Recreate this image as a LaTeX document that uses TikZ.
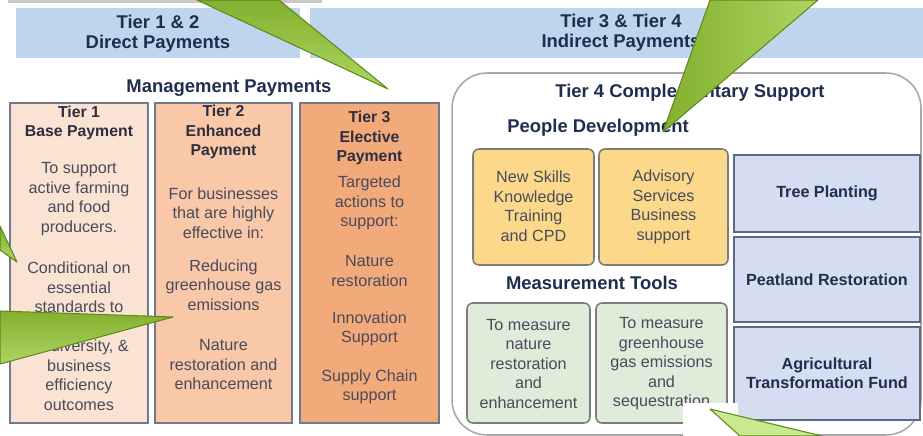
\documentclass[tikz,border=0pt]{standalone}
\usepackage{fontspec}
\setmainfont{Liberation Sans}
\usepackage{xcolor}

\definecolor{bandblue}{HTML}{BDD6EE}
\definecolor{headnavy}{HTML}{1F2D4F}
\definecolor{tiertext}{HTML}{2E2E40}
\definecolor{bodytext}{HTML}{4A4A5A}
\definecolor{tierline}{HTML}{707A8A}
\definecolor{tierone}{HTML}{FBE3D3}
\definecolor{tiertwo}{HTML}{F8C8A8}
\definecolor{tierthree}{HTML}{F3AA7B}
\definecolor{outline}{HTML}{A8A8A8}
\definecolor{softline}{HTML}{7C7C7C}
\definecolor{skillyellow}{HTML}{FCD98A}
\definecolor{measuregreen}{HTML}{E0ECDA}
\definecolor{fundblue}{HTML}{D5DDF1}
\definecolor{fundline}{HTML}{5C6884}
\definecolor{topgray}{HTML}{C8C8C8}
\definecolor{pointerline}{HTML}{5E8A1A}
\definecolor{pointerlight}{HTML}{AFD561}
\definecolor{pointerdark}{HTML}{82B02E}
\definecolor{pointerpale}{HTML}{C9E98F}

\begin{document}
\begin{tikzpicture}[x=0.02cm,y=-0.02cm]
%style for header bands and big headings
\tikzstyle{band} = [rectangle, fill=bandblue, inner sep=0pt, minimum height=1cm]
\tikzstyle{bighead} = [font=\fontsize{10.5}{11.6}\selectfont\bfseries, text=headnavy, align=center, inner sep=0pt]

%style for tier columns
\tikzstyle{tierbox} = [rectangle, draw=tierline, line width=1.1pt, inner sep=0pt, minimum height=6.4cm]
\tikzstyle{tierhead} = [font=\fontsize{9}{11.2}\selectfont\bfseries, text=tiertext, align=center, inner sep=0pt]
\tikzstyle{body} = [font=\fontsize{9.2}{11.1}\selectfont, text=bodytext, align=center, inner sep=0pt]

%style for tier 4 boxes
\tikzstyle{softbox} = [rectangle, rounded corners=0.12cm, draw=softline, line width=0.9pt, inner sep=0pt]
\tikzstyle{fundbox} = [rectangle, draw=fundline, fill=fundblue, line width=0.9pt, inner sep=0pt, minimum width=3.72cm, font=\fontsize{9.2}{10.8}\selectfont\bfseries, text=headnavy, align=center]

%style for callout pointers
\tikzstyle{pointer} = [draw=pointerline, line width=0.6pt, line join=round]

\useasboundingbox (0,0) rectangle (923,436);
\fill[topgray] (8,0) rectangle (322,3);

%place header bands
\node[band, minimum width=5.68cm] (band12) at (158,33) {};
\node[band, minimum width=12.26cm] (band34) at (616.5,33) {};
\node[bighead] (direct) at (158,34) {Tier 1 \& 2\\Direct Payments};
\node[bighead] (indirect) at (621,33) {Tier 3 \& Tier 4\\Indirect Payments};
\node[bighead] (mgmt) at (229,88) {Management Payments};

%place tier columns
\node[tierbox, fill=tierone, minimum width=2.76cm] (tier1) at (79,263) {};
\node[tierbox, fill=tiertwo, minimum width=2.74cm] (tier2) at (223.5,263) {};
\node[tierbox, fill=tierthree, minimum width=2.78cm] (tier3) at (369.5,263) {};

%tier 1 text
\node[tierhead] (t1head) at (79,123) {Tier 1\\Base Payment};
\node[body] (t1aim) at (79,199) {To support\\active farming\\and food\\producers.};
\node[body] (t1cond) at (79,336) {Conditional on\\essential\\standards to\\\mbox{}\\biodiversity, \&\\business\\efficiency\\outcomes};

%tier 2 text
\node[tierhead] (t2head) at (223.5,132) {Tier 2\\Enhanced\\Payment};
\node[body] (t2aim) at (223.5,213) {For businesses\\that are highly\\effective in:};
\node[body] (t2ghg) at (223.5,285) {Reducing\\greenhouse gas\\emissions};
\node[body] (t2nat) at (223.5,365) {Nature\\restoration and\\enhancement};

%tier 3 text
\node[tierhead] (t3head) at (369.5,138) {Tier 3\\Elective\\Payment};
\node[body] (t3aim) at (369.5,203) {Targeted\\actions to\\support:};
\node[body] (t3nat) at (369.5,271) {Nature\\restoration};
\node[body] (t3inn) at (369.5,329) {Innovation\\Support};
\node[body] (t3sup) at (369.5,387) {Supply Chain\\support};

%place tier 4 container
\node[rectangle, rounded corners=0.7cm, draw=outline, line width=0.9pt, fill=white, minimum width=9.38cm, minimum height=7.24cm] (tier4) at (686.5,254) {};
\node[bighead] (t4head) at (690,93) {Tier 4 Complementary Support};
\node[bighead] (people) at (598,128) {People Development};
\node[bighead] (measure) at (592,283) {Measurement Tools};

%people development boxes
\node[softbox, fill=skillyellow, minimum width=2.42cm, minimum height=2.32cm] (skills) at (533.5,207) {};
\node[softbox, fill=skillyellow, minimum width=2.58cm, minimum height=2.32cm] (advisory) at (663.5,207) {};
\node[body] (skillstext) at (533.5,206) {New Skills\\Knowledge\\Training\\and CPD};
\node[body] (advisorytext) at (663.5,207) {Advisory\\Services\\Business\\support};

%measurement boxes
\node[softbox, fill=measuregreen, minimum width=2.46cm, minimum height=2.4cm] (naturem) at (528.5,363) {};
\node[softbox, fill=measuregreen, minimum width=2.62cm, minimum height=2.4cm] (ghgm) at (661.5,363) {};
\node[body] (naturetext) at (528.5,364) {To measure\\nature\\restoration\\and\\enhancement};
\node[body] (ghgtext) at (661.5,364) {To measure\\greenhouse\\gas emissions\\and\\sequestration};

%fund boxes
\node[fundbox, minimum height=1.54cm] (trees) at (827,193.5) {Tree Planting};
\node[fundbox, minimum height=1.7cm] (peat) at (827,279.5) {Peatland Restoration};
\node[fundbox, minimum height=1.86cm] (atf) at (827,373.5) {Agricultural\\Transformation Fund};

%white patch and callout pointers on top
\fill[white] (683,403) rectangle (738,436);
\shade[pointer, top color=pointerdark, bottom color=pointerlight] (197,0) -- (388,89) -- (279,0) -- cycle;
\shade[pointer, left color=pointerdark, right color=pointerlight] (710,0) -- (663,132) -- (818,0) -- cycle;
\shade[pointer, top color=pointerdark, bottom color=pointerlight] (0,226) -- (17,262) -- (0,250) -- cycle;
\shade[pointer, top color=pointerdark, bottom color=pointerlight] (0,311) -- (173,317) -- (0,364) -- cycle;
\filldraw[pointer, fill=pointerpale] (710,409) -- (822,436) -- (740,436) -- cycle;
\end{tikzpicture}
\end{document}
